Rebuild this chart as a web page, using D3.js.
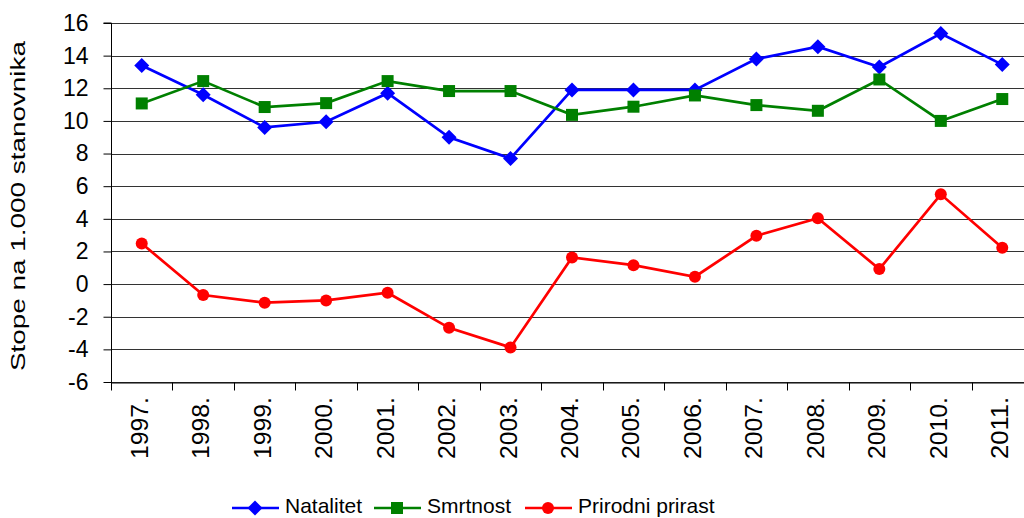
<!DOCTYPE html>
<html>
<head>
<meta charset="utf-8">
<script src="https://cdn.jsdelivr.net/npm/d3@7"></script>
<style>
  body { margin: 0; background: #fff; }
  svg { display: block; font-family: "Liberation Sans", Arial, sans-serif; }
</style>
</head>
<body>
<div id="chart"></div>
<script>
// data
const years = ["1997.", "1998.", "1999.", "2000.", "2001.", "2002.", "2003.", "2004.", "2005.", "2006.", "2007.", "2008.", "2009.", "2010.", "2011."]
const natalitet = [13.4, 11.6, 9.6, 9.95, 11.7, 9.0, 7.7, 11.9, 11.9, 11.9, 13.8, 14.55, 13.3, 15.35, 13.45]
const smrtnost = [11.07, 12.44, 10.85, 11.09, 12.44, 11.83, 11.83, 10.37, 10.87, 11.56, 10.97, 10.62, 12.54, 10.0, 11.34]
const prirast = [2.49, -0.67, -1.14, -1.0, -0.53, -2.68, -3.88, 1.63, 1.16, 0.45, 2.96, 4.04, 0.92, 5.5, 2.23]
const yTicks = [-6, -4, -2, 0, 2, 4, 6, 8, 10, 12, 14, 16]

const series = [
  { name: "Natalitet", values: natalitet, color: "#0000ff", marker: "diamond" },
  { name: "Smrtnost", values: smrtnost, color: "#008000", marker: "square" },
  { name: "Prirodni prirast", values: prirast, color: "#ff0000", marker: "circle" }
]

const W = 1024, H = 518
const pLeft = 111, pRight = 1033, pTop = 23, pBottom = 382

const svg = d3.select("#chart").append("svg")
  .attr("width", W)
  .attr("height", H)

const x = d3.scaleBand().domain(years).range([pLeft, pRight])
const y = d3.scaleLinear().domain([-6, 16]).range([pBottom, pTop])

// grid
svg.append("g")
  .selectAll("line")
  .data(yTicks)
  .enter()
  .append("line")
  .attr("x1", pLeft)
  .attr("x2", pRight)
  .attr("y1", d => Math.round(y(d)) + 0.5)
  .attr("y2", d => Math.round(y(d)) + 0.5)
  .attr("stroke", "#333")
  .attr("stroke-width", 1)

// y axis
const yAxis = d3.axisLeft(y).tickValues(yTicks).tickSize(8).tickPadding(15)
  .tickFormat(d => String(d))
const gy = svg.append("g")
  .attr("transform", "translate(" + (pLeft + 0.5) + ",0)")
  .call(yAxis)
gy.selectAll("text").attr("font-size", 23).attr("fill", "#000")
  .attr("font-family", "Liberation Sans, Arial, sans-serif")
gy.selectAll("line, path").attr("stroke", "#000")
gy.select(".domain").attr("d", "M-8," + pTop + "H0V" + (pBottom + 0.5))

// x axis
const xAxis = d3.axisBottom(x).tickSize(8).tickSizeOuter(0).tickFormat("")
const gx = svg.append("g")
  .attr("transform", "translate(0," + (Math.round(pBottom) + 0.5) + ")")
  .call(xAxis)
gx.selectAll(".tick line").remove()
gx.selectAll("line, path").attr("stroke", "#000")
gx.selectAll(".sep")
  .data(years.concat(["end"]))
  .enter()
  .append("line")
  .attr("x1", (d, i) => Math.round(pLeft + i * x.bandwidth()) + 0.5)
  .attr("x2", (d, i) => Math.round(pLeft + i * x.bandwidth()) + 0.5)
  .attr("y1", 0)
  .attr("y2", 8)
  .attr("stroke", "#000")

svg.append("g")
  .selectAll("text")
  .data(years)
  .enter()
  .append("text")
  .attr("transform", d => "translate(" + (x(d) + x.bandwidth() / 2 + 6) + "," + 397 + ") rotate(-90)")
  .attr("text-anchor", "end")
  .attr("font-size", 23)
  .attr("textLength", 62)
  .attr("lengthAdjust", "spacingAndGlyphs")
  .text(d => d)

// y title
svg.append("text")
  .attr("transform", "translate(25,206) rotate(-90)")
  .attr("text-anchor", "middle")
  .attr("font-size", 21)
  .attr("textLength", 330)
  .attr("lengthAdjust", "spacingAndGlyphs")
  .text("Stope na 1.000 stanovnika")

const line = d3.line()
  .x((d, i) => x(years[i]) + x.bandwidth() / 2)
  .y(d => y(d))

function drawMarker(g, type, color) {
  if (type === "diamond") {
    g.append("path").attr("d", "M0,-7.5L7.5,0L0,7.5L-7.5,0Z").attr("fill", color)
  } else if (type === "square") {
    g.append("rect").attr("x", -6).attr("y", -6).attr("width", 12).attr("height", 12).attr("fill", color)
  } else {
    g.append("circle").attr("r", 6).attr("fill", color)
  }
}

series.forEach(s => {
  svg.append("path")
    .datum(s.values)
    .attr("d", line)
    .attr("fill", "none")
    .attr("stroke", s.color)
    .attr("stroke-width", 2.7)
  s.values.forEach((v, i) => {
    const g = svg.append("g")
      .attr("transform", "translate(" + (x(years[i]) + x.bandwidth() / 2) + "," + y(v) + ")")
    drawMarker(g, s.marker, s.color)
  })
})

// legend
const legendX = [232, 374, 525]
series.forEach((s, i) => {
  const lg = svg.append("g").attr("transform", "translate(" + legendX[i] + ",508)")
  lg.append("line").attr("x1", 0).attr("x2", 47).attr("stroke", s.color).attr("stroke-width", 2.7)
  const m = lg.append("g").attr("transform", "translate(23,0)")
  drawMarker(m, s.marker, s.color)
  lg.append("text")
    .attr("x", 53)
    .attr("y", 5)
    .attr("font-size", 21)
    .text(s.name)
})
</script>
</body>
</html>
